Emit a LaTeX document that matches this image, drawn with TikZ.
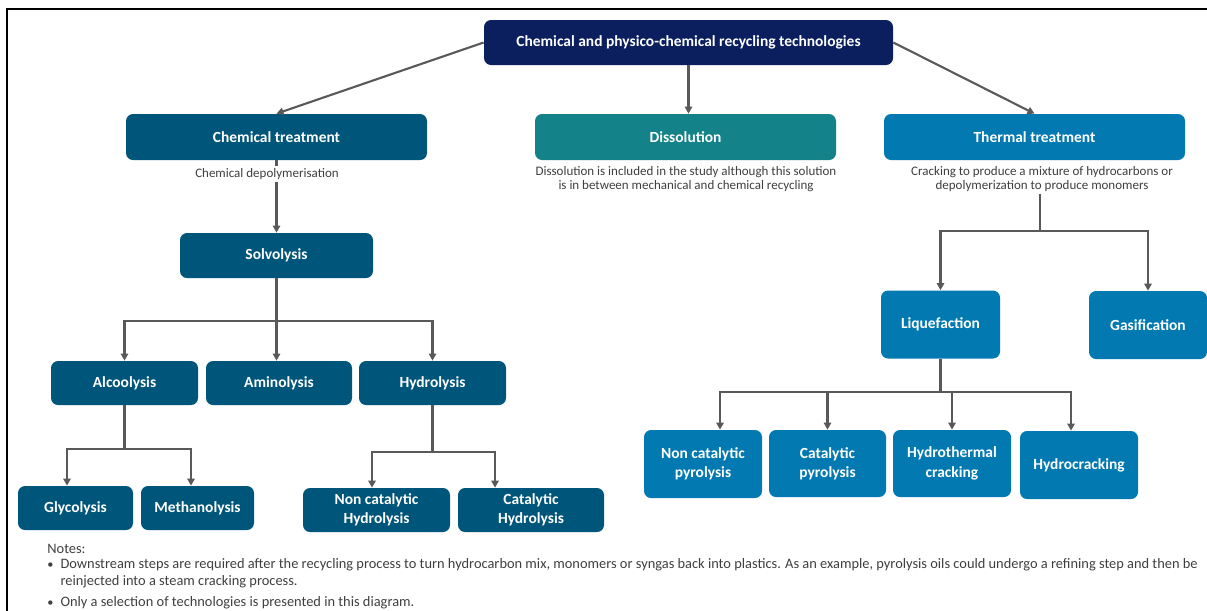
\documentclass[tikz,border=0pt]{standalone}
\usepackage{fontspec}
\setmainfont{Carlito}
\usepackage{tikz}
\usetikzlibrary{arrows.meta}

\definecolor{navybox}{HTML}{0B1F5E}
\definecolor{chemblue}{HTML}{00567A}
\definecolor{dissteal}{HTML}{138389}
\definecolor{thermblue}{HTML}{0379B1}
\definecolor{linegray}{HTML}{595959}
\definecolor{notegray}{HTML}{3F3F3F}

\begin{document}
\begin{tikzpicture}[x=0.02cm, y=-0.02cm,
    wh/.style 2 args={minimum width=#1*0.02cm, minimum height=#2*0.02cm},
    box/.style={rounded corners=4pt, text=white, align=center, inner sep=0pt,
        font=\bfseries\fontsize{8.8}{11}\selectfont},
    note/.style={text=notegray, align=center, inner sep=1pt, fill=white,
        font=\fontsize{7.4}{8.3}\selectfont},
    ln/.style={draw=linegray, line width=1.2pt},
    arr/.style={ln, -{Triangle[length=4pt, width=4.2pt]}}]
    \useasboundingbox (0,0) rectangle (1207,610);
    \draw[line width=1.2pt] (7,615) -- (7,9) -- (1215,9);

    % Define nodes
    \node[box, fill=navybox, wh={409}{45}] (TOP) at (688.5,42.5) {Chemical and physico-chemical recycling technologies};

    \node[box, fill=chemblue, wh={301}{46}] (CT) at (276.5,137) {Chemical treatment};
    \node[box, fill=dissteal, wh={301}{46}] (DS) at (685.5,137) {Dissolution};
    \node[box, fill=thermblue, wh={301}{46}] (TT) at (1034.5,137) {Thermal treatment};

    \node[note] (CTn) at (267,174) {Chemical depolymerisation};
    \node[note] (DSn) at (686,179) {Dissolution is included in the study although this solution\\is in between mechanical and chemical recycling};
    \node[note] (TTn) at (1042,179) {Cracking to produce a mixture of hydrocarbons or\\depolymerization to produce monomers};

    \node[box, fill=chemblue, wh={193}{45}] (SV) at (276.5,255.5) {Solvolysis};

    \node[box, fill=chemblue, wh={147}{44}] (AL) at (124.5,383) {Alcoolysis};
    \node[box, fill=chemblue, wh={146}{44}] (AM) at (279,383) {Aminolysis};
    \node[box, fill=chemblue, wh={147}{44}] (HY) at (432.5,383) {Hydrolysis};

    \node[box, fill=chemblue, wh={115}{44}] (GL) at (75.5,508) {Glycolysis};
    \node[box, fill=chemblue, wh={113}{44}] (ME) at (197.5,508) {Methanolysis};
    \node[box, fill=chemblue, wh={147}{44}] (NH) at (376.5,510) {Non catalytic\\Hydrolysis};
    \node[box, fill=chemblue, wh={146}{44}] (CH) at (531,510) {Catalytic\\Hydrolysis};

    \node[box, fill=thermblue, wh={119}{68}] (LQ) at (940.5,324.5) {Liquefaction};
    \node[box, fill=thermblue, wh={118}{68}] (GA) at (1148,325) {Gasification};

    \node[box, fill=thermblue, wh={118}{68}] (NP) at (703,464) {Non catalytic\\pyrolysis};
    \node[box, fill=thermblue, wh={117}{67}] (CP) at (827.5,463.5) {Catalytic\\pyrolysis};
    \node[box, fill=thermblue, wh={118}{67}] (HT) at (952,463.5) {Hydrothermal\\cracking};
    \node[box, fill=thermblue, wh={118}{68}] (HC) at (1079,465) {Hydrocracking};

    \coordinate (sv-j) at (276.5,321);
    \coordinate (al-j) at (124.5,449);
    \coordinate (hy-j) at (432.5,452);
    \coordinate (tt-j) at (1040,231);
    \coordinate (lq-j) at (940.5,392);

    % Draw arrows
    \draw[arr] (TOP.west) -- (CT.north);
    \draw[arr] (TOP.south) -- (TOP.south |- DS.north);
    \draw[arr] (TOP.east) -- (TT.north);

    \draw[ln] (CT.south) -- (CT.south |- CTn.north);
    \draw[arr] (CT.south |- CTn.south) -- (SV.north);
    \draw[ln] (SV.south) -- (sv-j);
    \draw[arr] (sv-j) -| (AL.north);
    \draw[arr] (sv-j) -- (sv-j |- AM.north);
    \draw[arr] (sv-j) -| (HY.north);

    \draw[ln] (AL.south) -- (al-j);
    \draw[arr] (al-j) -| ([xshift=-0.17cm]GL.north);
    \draw[arr] (al-j) -| ([xshift=-0.13cm]ME.north);
    \draw[ln] (HY.south) -- (hy-j);
    \draw[arr] (hy-j) -| ([xshift=-0.09cm]NH.north);
    \draw[arr] (hy-j) -| ([xshift=-0.72cm]CH.north);

    \draw[ln] (tt-j |- TTn.south) -- (tt-j);
    \draw[arr] (tt-j) -| (LQ.north);
    \draw[arr] (tt-j) -| (GA.north);
    \draw[ln] (LQ.south) -- (lq-j);
    \draw[arr] (lq-j) -| ([xshift=0.34cm]NP.north);
    \draw[arr] (lq-j) -| (CP.north);
    \draw[arr] (lq-j) -| (HT.north);
    \draw[arr] (lq-j) -| ([xshift=-0.16cm]HC.north);

    % Notes
    \node[note, align=left, anchor=north west, fill=none, inner sep=0pt,
        font=\fontsize{8.2}{9.6}\selectfont] (NOTES) at (47,544) {Notes:\\[0.8pt]
        \begin{tabular}{@{}l@{\hspace{4pt}}l@{}}
        {\scriptsize\textbullet} & Downstream steps are required after the recycling process to turn hydrocarbon mix, monomers or syngas back into plastics. As an example, pyrolysis oils could undergo a refining step and then be\\
        & reinjected into a steam cracking process.\\[2.2pt]
        {\scriptsize\textbullet} & Only a selection of technologies is presented in this diagram.
        \end{tabular}};
\end{tikzpicture}
\end{document}
